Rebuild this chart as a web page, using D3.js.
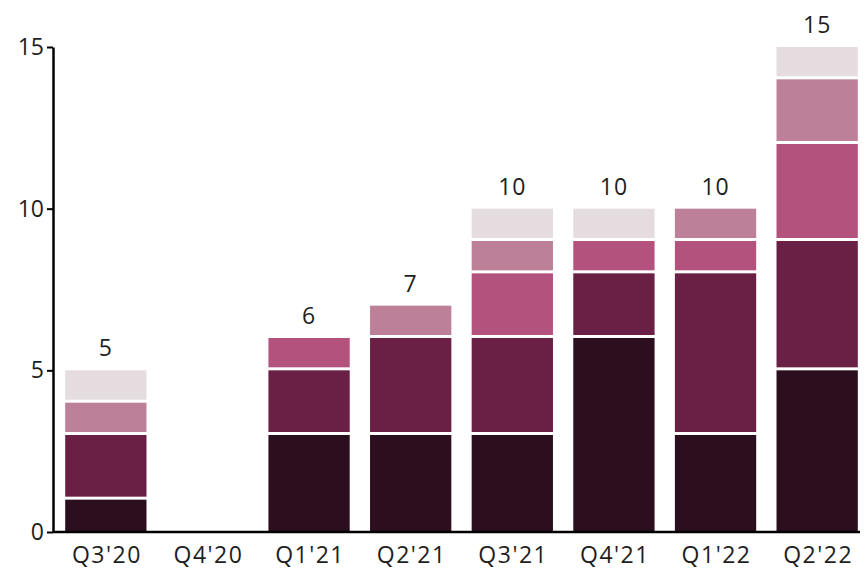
<!DOCTYPE html>
<html>
<head>
<meta charset="utf-8">
<script src="https://cdn.jsdelivr.net/npm/d3@7"></script>
<style>
  html, body { margin: 0; padding: 0; background: #fff; }
  svg { display: block; }
  text { font-family: "Open Sans", "Noto Sans", sans-serif; fill: #1e1e1e; }
</style>
</head>
<body>
<svg id="chart" width="866" height="569"></svg>
<script>
// Quarterly counts, stacked by category (darkest at the bottom)
const quarters = ["Q3'20", "Q4'20", "Q1'21", "Q2'21", "Q3'21", "Q4'21", "Q1'22", "Q2'22"];
const seriesA = [1, 0, 3, 3, 3, 6, 3, 5];
const seriesB = [2, 0, 2, 3, 3, 2, 5, 4];
const seriesC = [0, 0, 1, 0, 2, 1, 1, 3];
const seriesD = [1, 0, 0, 1, 1, 0, 1, 2];
const seriesE = [1, 0, 0, 0, 1, 1, 0, 1];
const yTicks = [0, 5, 10, 15];

const seriesKeys = ["A", "B", "C", "D", "E"];
const seriesColors = ["#2c0f1e", "#6a1f44", "#b4527e", "#bd8099", "#e4dcdf"];

const rows = quarters.map((q, i) => ({
  quarter: q,
  A: seriesA[i], B: seriesB[i], C: seriesC[i], D: seriesD[i], E: seriesE[i]
}));
const totals = rows.map(r => seriesKeys.reduce((s, k) => s + r[k], 0));

const svg = d3.select("#chart");

const x = d3.scaleBand()
  .domain(quarters)
  .range([53, 870])
  .paddingInner(0.2)
  .paddingOuter(0.12);

const y = d3.scaleLinear()
  .domain([0, 15])
  .range([532, 47]);

const stack = d3.stack().keys(seriesKeys);
const layers = stack(rows);
const gap = 3;

svg.append("g")
  .selectAll("g")
  .data(layers)
  .join("g")
  .attr("fill", (d, i) => seriesColors[i])
  .selectAll("rect")
  .data(d => d.filter(s => s[1] > s[0]))
  .join("rect")
  .attr("x", d => x(d.data.quarter))
  .attr("width", x.bandwidth())
  .attr("y", d => y(d[1]))
  .attr("height", d => y(d[0]) - y(d[1]) - (d[0] > 0 ? gap : 0));

// Total above each bar
svg.append("g")
  .selectAll("text")
  .data(quarters.map((q, i) => ({ q, t: totals[i] })).filter(d => d.t > 0))
  .join("text")
  .attr("x", d => x(d.q) + x.bandwidth() / 2)
  .attr("y", d => y(d.t) - 14)
  .attr("text-anchor", "middle")
  .attr("font-size", 23)
  .attr("letter-spacing", 1)
  .text(d => d.t);

// Axes
const xAxis = d3.axisBottom(x).tickSize(0).tickSizeOuter(0);
const gx = svg.append("g")
  .attr("transform", "translate(0,532)")
  .call(xAxis);
gx.select(".domain").attr("stroke", "#000").attr("stroke-width", 2.5)
  .attr("d", "M53,0H860");
gx.selectAll("text")
  .attr("font-size", 23)
  .attr("letter-spacing", 1.5)
  .attr("dx", 1)
  .attr("dy", "0")
  .attr("y", 31)
  .style("font-family", "'Open Sans', sans-serif")
  .attr("fill", "#1e1e1e");

const yAxis = d3.axisLeft(y).tickValues(yTicks).tickSize(6).tickSizeOuter(0).tickPadding(3);
const gy = svg.append("g")
  .attr("transform", "translate(53,0)")
  .call(yAxis);
gy.select(".domain").attr("stroke", "#000").attr("stroke-width", 2.5);
gy.selectAll(".tick line").attr("stroke", "#000").attr("stroke-width", 2);
gy.selectAll("text")
  .attr("font-size", 23)
  .style("font-family", "'Open Sans', sans-serif")
  .attr("fill", "#1e1e1e");
</script>
</body>
</html>
